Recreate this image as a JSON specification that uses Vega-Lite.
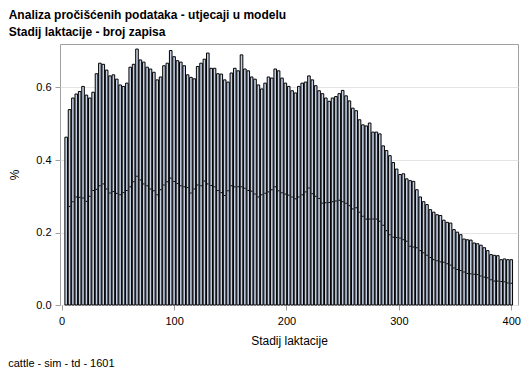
{
"$schema": "https://vega.github.io/schema/vega-lite/v6.json",
"background": "white",
"padding": {"left": 8, "top": 8, "right": 4, "bottom": 2},
"config": {"font": "Liberation Sans", "view": {"stroke": "#a0a0a0", "strokeWidth": 1}, "concat": {"spacing": 0}},
"title": {"text": "cattle - sim - td - 1601", "orient": "bottom", "anchor": "start", "frame": "bounds", "fontSize": 11, "fontWeight": "normal", "color": "black", "offset": 11},
"vconcat": [{
"width": 458, "height": 261,
"title": {"text": "Analiza pročišćenih podataka - utjecaji u modelu", "subtitle": "Stadij laktacije - broj zapisa", "anchor": "start", "frame": "bounds", "fontSize": 12, "fontWeight": "bold", "color": "black", "subtitleFontSize": 12, "subtitleFontWeight": "bold", "subtitleColor": "black", "subtitlePadding": 5, "offset": 5.5},
"data": {"values": [
{"x":4,"pct":0.463,"dot":null},{"x":7,"pct":0.539,"dot":0.272},{"x":10,"pct":0.571,"dot":0.285},{"x":13,"pct":0.582,"dot":0.298},{"x":16,"pct":0.589,"dot":0.297},{"x":19,"pct":0.603,"dot":0.295},{"x":22,"pct":0.579,"dot":0.286},{"x":25,"pct":0.571,"dot":0.300},{"x":28,"pct":0.587,"dot":0.316},{"x":31,"pct":0.638,"dot":0.319},
{"x":34,"pct":0.667,"dot":0.329},{"x":37,"pct":0.664,"dot":0.334},{"x":40,"pct":0.648,"dot":0.320},{"x":43,"pct":0.632,"dot":0.309},{"x":46,"pct":0.635,"dot":0.313},{"x":49,"pct":0.623,"dot":0.308},{"x":52,"pct":0.607,"dot":0.304},{"x":55,"pct":0.603,"dot":0.310},{"x":58,"pct":0.612,"dot":0.316},{"x":61,"pct":0.656,"dot":0.326},
{"x":64,"pct":0.664,"dot":0.340},{"x":67,"pct":0.706,"dot":0.355},{"x":70,"pct":0.676,"dot":0.345},{"x":73,"pct":0.670,"dot":0.334},{"x":76,"pct":0.656,"dot":0.329},{"x":79,"pct":0.651,"dot":0.320},{"x":82,"pct":0.642,"dot":0.315},{"x":85,"pct":0.621,"dot":0.304},{"x":88,"pct":0.629,"dot":0.318},{"x":91,"pct":0.660,"dot":0.331},
{"x":94,"pct":0.667,"dot":0.340},{"x":97,"pct":0.702,"dot":0.350},{"x":100,"pct":0.685,"dot":0.341},{"x":103,"pct":0.674,"dot":0.335},{"x":106,"pct":0.670,"dot":0.329},{"x":109,"pct":0.660,"dot":0.326},{"x":112,"pct":0.635,"dot":0.324},{"x":115,"pct":0.628,"dot":0.309},{"x":118,"pct":0.624,"dot":0.320},{"x":121,"pct":0.658,"dot":0.331},
{"x":124,"pct":0.667,"dot":0.329},{"x":127,"pct":0.678,"dot":0.342},{"x":130,"pct":0.695,"dot":0.334},{"x":133,"pct":0.653,"dot":0.330},{"x":136,"pct":0.653,"dot":0.326},{"x":139,"pct":0.638,"dot":0.316},{"x":142,"pct":0.637,"dot":0.310},{"x":145,"pct":0.621,"dot":0.302},{"x":148,"pct":0.615,"dot":0.315},{"x":151,"pct":0.640,"dot":0.329},
{"x":154,"pct":0.653,"dot":0.326},{"x":157,"pct":0.646,"dot":0.326},{"x":160,"pct":0.690,"dot":0.326},{"x":163,"pct":0.651,"dot":0.322},{"x":166,"pct":0.646,"dot":0.316},{"x":169,"pct":0.629,"dot":0.314},{"x":172,"pct":0.623,"dot":0.306},{"x":175,"pct":0.607,"dot":0.298},{"x":178,"pct":0.596,"dot":0.304},{"x":181,"pct":0.612,"dot":0.308},
{"x":184,"pct":0.629,"dot":0.312},{"x":187,"pct":0.626,"dot":0.318},{"x":190,"pct":0.651,"dot":0.326},{"x":193,"pct":0.646,"dot":0.315},{"x":196,"pct":0.626,"dot":0.310},{"x":199,"pct":0.612,"dot":0.306},{"x":202,"pct":0.603,"dot":0.303},{"x":205,"pct":0.591,"dot":0.298},{"x":208,"pct":0.585,"dot":0.293},{"x":211,"pct":0.603,"dot":0.298},
{"x":214,"pct":0.612,"dot":0.304},{"x":217,"pct":0.615,"dot":0.312},{"x":220,"pct":0.632,"dot":0.323},{"x":223,"pct":0.621,"dot":0.307},{"x":226,"pct":0.605,"dot":0.300},{"x":229,"pct":0.591,"dot":0.294},{"x":232,"pct":0.583,"dot":0.281},{"x":235,"pct":0.571,"dot":0.282},{"x":238,"pct":0.562,"dot":0.283},{"x":241,"pct":0.571,"dot":0.285},
{"x":244,"pct":0.575,"dot":0.287},{"x":247,"pct":0.583,"dot":0.289},{"x":250,"pct":0.592,"dot":0.285},{"x":253,"pct":0.577,"dot":0.281},{"x":256,"pct":0.563,"dot":0.274},{"x":259,"pct":0.543,"dot":0.265},{"x":262,"pct":0.536,"dot":0.268},{"x":265,"pct":0.511,"dot":0.256},{"x":268,"pct":0.497,"dot":0.245},{"x":271,"pct":0.494,"dot":0.237},
{"x":274,"pct":0.502,"dot":0.237},{"x":277,"pct":0.477,"dot":0.237},{"x":280,"pct":0.477,"dot":0.237},{"x":283,"pct":0.472,"dot":0.231},{"x":286,"pct":0.439,"dot":0.220},{"x":289,"pct":0.426,"dot":0.205},{"x":292,"pct":0.412,"dot":0.194},{"x":295,"pct":0.393,"dot":0.187},{"x":298,"pct":0.375,"dot":0.186},{"x":301,"pct":0.360,"dot":0.185},
{"x":304,"pct":0.362,"dot":0.180},{"x":307,"pct":0.348,"dot":0.176},{"x":310,"pct":0.343,"dot":0.162},{"x":313,"pct":0.341,"dot":0.160},{"x":316,"pct":0.318,"dot":0.158},{"x":319,"pct":0.298,"dot":0.150},{"x":322,"pct":0.285,"dot":0.144},{"x":325,"pct":0.277,"dot":0.137},{"x":328,"pct":0.263,"dot":0.131},{"x":331,"pct":0.256,"dot":0.125},
{"x":334,"pct":0.249,"dot":0.122},{"x":337,"pct":0.247,"dot":0.119},{"x":340,"pct":0.234,"dot":0.118},{"x":343,"pct":0.228,"dot":0.114},{"x":346,"pct":0.226,"dot":0.110},{"x":349,"pct":0.208,"dot":0.102},{"x":352,"pct":0.201,"dot":0.098},{"x":355,"pct":0.194,"dot":0.095},{"x":358,"pct":0.182,"dot":0.091},{"x":361,"pct":0.180,"dot":0.087},
{"x":364,"pct":0.179,"dot":0.086},{"x":367,"pct":0.171,"dot":0.085},{"x":370,"pct":0.169,"dot":0.084},{"x":373,"pct":0.165,"dot":0.080},{"x":376,"pct":0.158,"dot":0.077},{"x":379,"pct":0.150,"dot":0.075},{"x":382,"pct":0.139,"dot":0.070},{"x":385,"pct":0.137,"dot":0.066},{"x":388,"pct":0.136,"dot":0.066},{"x":391,"pct":0.125,"dot":0.065},
{"x":394,"pct":0.127,"dot":0.064},{"x":397,"pct":0.125,"dot":0.061},{"x":400,"pct":0.125,"dot":0.060}
]},
"layer": [
{"mark": {"type": "bar", "width": 2.6, "fill": "#c5d0e4", "stroke": "black", "strokeWidth": 1},
 "encoding": {
  "x": {"field": "x", "type": "quantitative", "scale": {"domain": [-1.5, 406], "nice": false, "zero": false, "padding": 0},
        "axis": {"values": [0, 100, 200, 300, 400], "grid": false, "domain": false, "tickColor": "#a0a0a0", "tickSize": 5, "labelFontSize": 11, "labelColor": "black", "labelPadding": 5, "title": "Stadij laktacije", "titleFontSize": 12, "titleFontWeight": "normal", "titleColor": "black", "titlePadding": 9}},
  "y": {"field": "pct", "type": "quantitative", "scale": {"domain": [0, 0.72], "nice": false, "padding": 0},
        "axis": {"values": [0, 0.2, 0.4, 0.6], "format": ".1f", "grid": true, "gridColor": "#e4e4e4", "domain": false, "tickColor": "#a0a0a0", "tickSize": 5, "labelFontSize": 11, "labelColor": "black", "labelPadding": 4, "title": "%", "titleFontSize": 12, "titleFontWeight": "normal", "titleColor": "black", "titlePadding": 14}}
 }},
{"mark": {"type": "tick", "orient": "horizontal", "size": 1.6, "thickness": 1, "color": "black", "opacity": 1},
 "encoding": {
  "x": {"field": "x", "type": "quantitative"},
  "y": {"field": "dot", "type": "quantitative"}
 }}
]
}]
}
